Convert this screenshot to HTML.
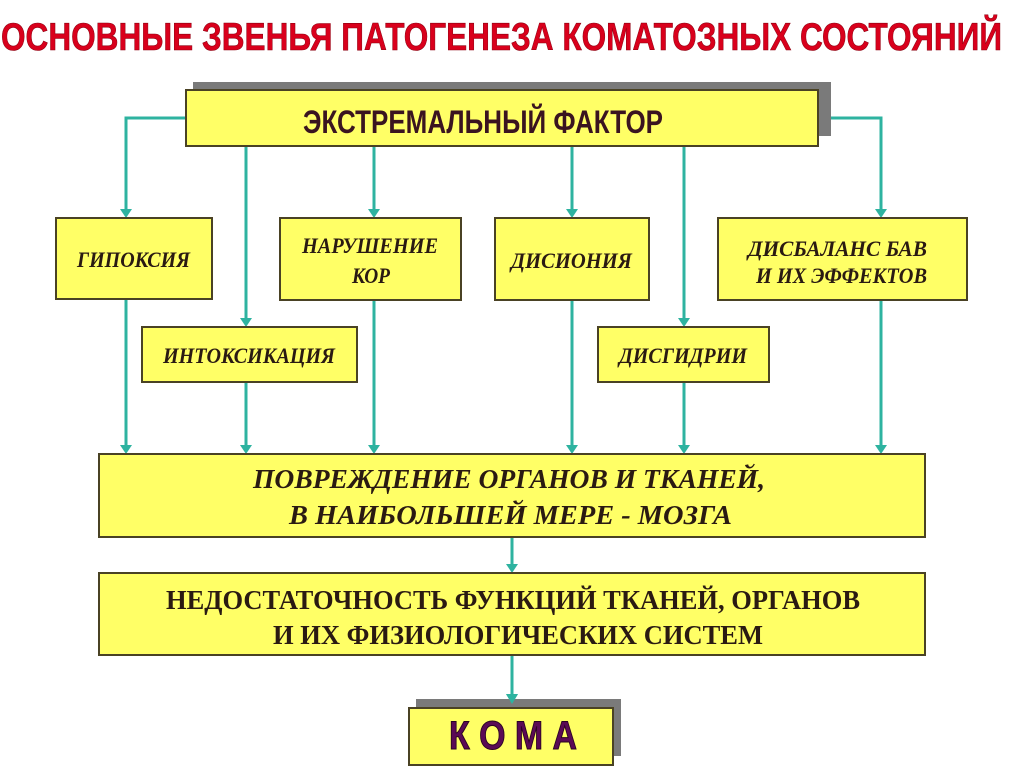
<!DOCTYPE html>
<html>
<head>
<meta charset="utf-8">
<style>
html,body{margin:0;padding:0;background:#fff;}
svg{display:block;}
.bx{fill:#ffff66;stroke:#4a4224;stroke-width:2;}
.sh{fill:#7a7a7a;}
.ln{stroke:#2eb3a0;stroke-width:3;fill:none;}
.ar{fill:#2eb3a0;}
.it{font-family:"Liberation Serif",serif;font-weight:bold;font-style:italic;font-size:22px;fill:#2a1a12;}
.up{font-family:"Liberation Serif",serif;font-weight:bold;font-size:27px;fill:#2a1a12;}
.itb{font-family:"Liberation Serif",serif;font-weight:bold;font-style:italic;font-size:27px;fill:#2a1a12;}
</style>
</head>
<body>
<svg width="1024" height="767" viewBox="0 0 1024 767" xmlns="http://www.w3.org/2000/svg">
<rect x="0" y="0" width="1024" height="767" fill="#ffffff"/>

<!-- Title -->
<text x="1" y="50" font-family="Liberation Sans, sans-serif" font-weight="bold" font-size="39" fill="#d9001c" stroke="#8a0010" stroke-width="0.6" textLength="1001" lengthAdjust="spacingAndGlyphs">ОСНОВНЫЕ  ЗВЕНЬЯ  ПАТОГЕНЕЗА  КОМАТОЗНЫХ  СОСТОЯНИЙ</text>

<!-- Connectors -->
<polyline class="ln" points="186,118 126,118 126,211"/>
<polyline class="ln" points="818,118 881,118 881,211"/>
<line class="ln" x1="246" y1="146" x2="246" y2="320"/>
<line class="ln" x1="374" y1="146" x2="374" y2="211"/>
<line class="ln" x1="572" y1="146" x2="572" y2="211"/>
<line class="ln" x1="684" y1="146" x2="684" y2="320"/>

<line class="ln" x1="126" y1="299" x2="126" y2="447"/>
<line class="ln" x1="246" y1="382" x2="246" y2="447"/>
<line class="ln" x1="374" y1="300" x2="374" y2="447"/>
<line class="ln" x1="572" y1="300" x2="572" y2="447"/>
<line class="ln" x1="684" y1="382" x2="684" y2="447"/>
<line class="ln" x1="881" y1="300" x2="881" y2="447"/>
<line class="ln" x1="512" y1="537" x2="512" y2="566"/>
<line class="ln" x1="512" y1="655" x2="512" y2="696"/>

<!-- Arrowheads -->
<polygon class="ar" points="120,209 132,209 126,218"/>
<polygon class="ar" points="875,209 887,209 881,218"/>
<polygon class="ar" points="240,318 252,318 246,327"/>
<polygon class="ar" points="368,209 380,209 374,218"/>
<polygon class="ar" points="566,209 578,209 572,218"/>
<polygon class="ar" points="678,318 690,318 684,327"/>
<polygon class="ar" points="120,445 132,445 126,454"/>
<polygon class="ar" points="240,445 252,445 246,454"/>
<polygon class="ar" points="368,445 380,445 374,454"/>
<polygon class="ar" points="566,445 578,445 572,454"/>
<polygon class="ar" points="678,445 690,445 684,454"/>
<polygon class="ar" points="875,445 887,445 881,454"/>
<polygon class="ar" points="506,564 518,564 512,573"/>
<polygon class="ar" points="506,694 518,694 512,704"/>

<!-- Top box -->
<rect class="sh" x="193" y="82" width="638" height="54"/>
<rect class="bx" x="186" y="90" width="632" height="56"/>
<text x="303" y="133" font-family="Liberation Sans, sans-serif" font-weight="bold" font-size="32" fill="#3a1420" textLength="360" lengthAdjust="spacingAndGlyphs">ЭКСТРЕМАЛЬНЫЙ  ФАКТОР</text>

<!-- Row 1 boxes -->
<rect class="bx" x="56" y="218" width="156" height="81"/>
<text class="it" x="77" y="267" textLength="113" lengthAdjust="spacingAndGlyphs">ГИПОКСИЯ</text>

<rect class="bx" x="280" y="218" width="181" height="82"/>
<text class="it" x="302" y="253" textLength="136" lengthAdjust="spacingAndGlyphs">НАРУШЕНИЕ</text>
<text class="it" x="352" y="283" textLength="38" lengthAdjust="spacingAndGlyphs">КОР</text>

<rect class="bx" x="495" y="218" width="154" height="82"/>
<text class="it" x="511" y="268" textLength="121" lengthAdjust="spacingAndGlyphs">ДИСИОНИЯ</text>

<rect class="bx" x="718" y="218" width="249" height="82"/>
<text class="it" x="748" y="256" textLength="179" lengthAdjust="spacingAndGlyphs">ДИСБАЛАНС  БАВ</text>
<text class="it" x="756" y="283" textLength="171" lengthAdjust="spacingAndGlyphs">И ИХ ЭФФЕКТОВ</text>

<!-- Row 2 boxes -->
<rect class="bx" x="142" y="327" width="215" height="55"/>
<text class="it" x="163" y="363" textLength="172" lengthAdjust="spacingAndGlyphs">ИНТОКСИКАЦИЯ</text>

<rect class="bx" x="598" y="327" width="171" height="55"/>
<text class="it" x="619" y="363" textLength="128" lengthAdjust="spacingAndGlyphs">ДИСГИДРИИ</text>

<!-- Damage box -->
<rect class="bx" x="99" y="454" width="826" height="83"/>
<text class="itb" x="253" y="488" textLength="512" lengthAdjust="spacingAndGlyphs">ПОВРЕЖДЕНИЕ  ОРГАНОВ  И  ТКАНЕЙ,</text>
<text class="itb" x="289" y="524" textLength="443" lengthAdjust="spacingAndGlyphs">В  НАИБОЛЬШЕЙ  МЕРЕ - МОЗГА</text>

<!-- Insufficiency box -->
<rect class="bx" x="99" y="573" width="826" height="82"/>
<text class="up" x="166" y="609" textLength="694" lengthAdjust="spacingAndGlyphs">НЕДОСТАТОЧНОСТЬ ФУНКЦИЙ ТКАНЕЙ, ОРГАНОВ</text>
<text class="up" x="273" y="644" textLength="490" lengthAdjust="spacingAndGlyphs">И ИХ ФИЗИОЛОГИЧЕСКИХ СИСТЕМ</text>

<!-- KOMA -->
<rect class="sh" x="416" y="699" width="205" height="57"/>
<rect class="bx" x="409" y="708" width="204" height="57"/>
<polygon class="ar" points="506,694 518,694 512,704"/>
<text x="449" y="749" font-family="Liberation Sans, sans-serif" font-weight="bold" font-size="40" fill="#5a0a55" stroke="#2a0420" stroke-width="1" textLength="128" lengthAdjust="spacingAndGlyphs">К О М А</text>
</svg>
</body>
</html>
